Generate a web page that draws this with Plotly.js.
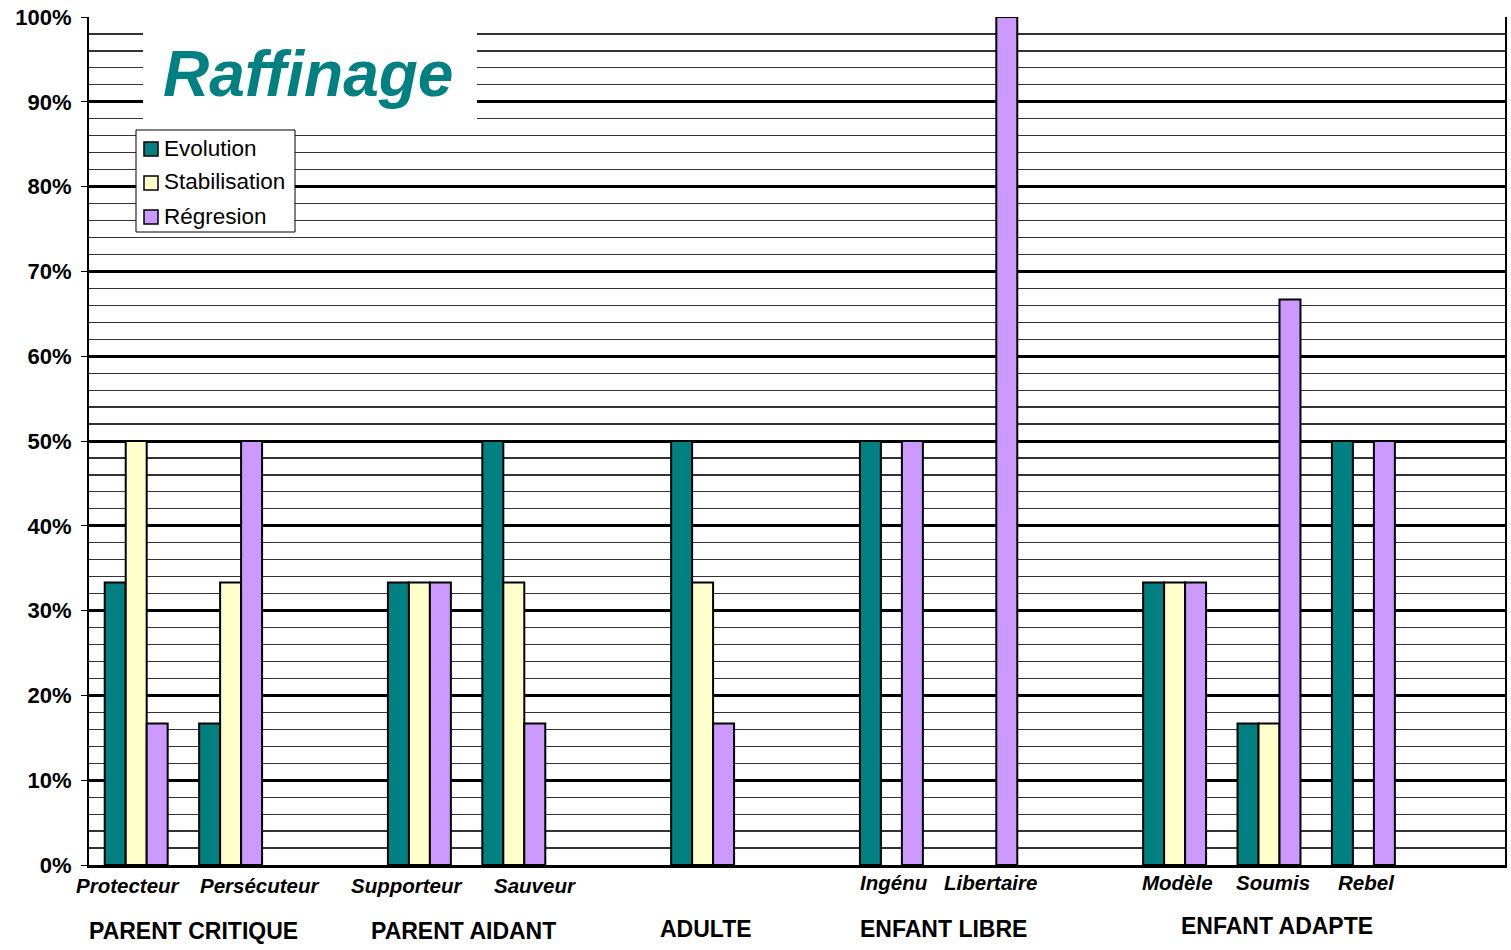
<!DOCTYPE html>
<html>
<head>
<meta charset="utf-8">
<script src="https://cdn.plot.ly/plotly-3.0.1.min.js"></script>
<style>html,body{margin:0;padding:0;background:#fff}#chart{width:1511px;height:950px}</style>
</head>
<body>
<div id="chart"></div>
<script>
// ---- data ----
var categories = ["Protecteur", "Persécuteur", "", "Supporteur", "Sauveur", "", "Adulte", "",
                  "Ingénu", "Libertaire", "", "Modèle", "Soumis", "Rebel", ""];
var tickLabels = ["Protecteur", "Persécuteur", "", "Supporteur", "Sauveur", "", "", "",
                  "Ingénu", "Libertaire", "", "Modèle", "Soumis", "Rebel", ""];
var evolution     = [33.3, 16.7, null, 33.3, 50, null, 50, null, 50, null, null, 33.3, 16.7, 50, null];
var stabilisation = [50, 33.3, null, 33.3, 33.3, null, 33.3, null, null, null, null, 33.3, 16.7, null, null];
var regresion     = [16.7, 50, null, 33.3, 16.7, null, 16.7, null, 50, 100, null, 33.3, 66.7, 50, null];
var seriesNames = ["Evolution", "Stabilisation", "Régresion"];
var groupLabels = ["PARENT CRITIQUE", "PARENT AIDANT", "ADULTE", "ENFANT LIBRE", "ENFANT ADAPTE"];
var chartTitle = "Raffinage";

// ---- styles / positions ----
var FONT = "Arial, 'Liberation Sans', sans-serif";
var colors = ["#008080", "#FFFFCC", "#CC99FF"];
var tickShift = [-8, 29, 0, -13, 21, 0, 0, 0, 3, 5, 0, 3, 4, 3, 0];
var tickYShift = [-20, -20, 0, -20, -20, 0, 0, 0, -17, -17, 0, -17, -17, -17, 0];
var groupPx = [193, 463, 706, 944, 1277];
var groupY = [-66, -66, -64, -64, -61];
var L = 89, R = 1505, T = 17, B = 865;
function px2x(p){ return (p - L) / (R - L); }
function py2y(p){ return 1 - (p - T) / (B - T); }

var xIdx = categories.map(function(c, i){ return i; });
var series = [evolution, stabilisation, regresion];
var traces = series.map(function(vals, i){
  return {
    type: "bar", x: xIdx, y: vals, name: seriesNames[i],
    marker: {color: colors[i], line: {color: "#000", width: 2}},
    hoverinfo: "skip", showlegend: false
  };
});

var annotations = [];
xIdx.forEach(function(xi, i){
  if (!tickLabels[i]) return;
  annotations.push({
    x: xi, xref: "x", y: 0, yref: "paper", yanchor: "middle", xanchor: "center",
    xshift: tickShift[i], yshift: tickYShift[i], showarrow: false,
    text: "<b><i>" + tickLabels[i] + "</i></b>",
    font: {family: FONT, size: 20.5, color: "#000"}
  });
});
groupLabels.forEach(function(g, i){
  annotations.push({
    x: px2x(groupPx[i]), xref: "paper", y: 0, yref: "paper", yanchor: "middle", xanchor: "center",
    yshift: groupY[i], showarrow: false, text: "<b>" + g + "</b>",
    font: {family: FONT, size: 23, color: "#000"}
  });
});
annotations.push({
  x: px2x(308), xref: "paper", y: py2y(74), yref: "paper", xanchor: "center", yanchor: "middle",
  showarrow: false, text: "<b><i>" + chartTitle + "</i></b>",
  font: {family: FONT, size: 64, color: "#008080"}
});

// legend drawn as a box with swatches
var shapes = [{
  type: "rect", xref: "paper", yref: "paper", layer: "above",
  x0: px2x(143), x1: px2x(477), y0: py2y(128), y1: py2y(20),
  fillcolor: "#fff", line: {width: 0}
}, {
  type: "rect", xref: "paper", yref: "paper", layer: "above",
  x0: px2x(136), x1: px2x(295), y0: py2y(232), y1: py2y(130),
  fillcolor: "#fff", line: {color: "#000", width: 1}
}];
var legRows = [149, 183, 217];
seriesNames.forEach(function(n, i){
  shapes.push({
    type: "rect", xref: "paper", yref: "paper", layer: "above",
    x0: px2x(144), x1: px2x(158), y0: py2y(legRows[i] + 7), y1: py2y(legRows[i] - 7),
    fillcolor: colors[i], line: {color: "#000", width: 1.5}
  });
  annotations.push({
    x: px2x(162), xref: "paper", y: py2y(legRows[i] - 1), yref: "paper",
    xanchor: "left", yanchor: "middle", showarrow: false, text: n,
    font: {family: FONT, size: 22.5, color: "#000"}
  });
});

var layout = {
  width: 1511, height: 950,
  margin: {l: L, r: 1511 - R, t: T, b: 950 - B, pad: 0},
  paper_bgcolor: "#fff", plot_bgcolor: "#fff",
  font: {family: FONT, color: "#000"},
  barmode: "group", bargap: 0.333, bargroupgap: 0,
  showlegend: false,
  xaxis: {
    type: "linear", range: [-0.5, categories.length - 0.5],
    showticklabels: false, ticks: "", showgrid: false,
    showline: true, linecolor: "#000", linewidth: 3, mirror: false,
    zeroline: false, fixedrange: true
  },
  yaxis: {
    range: [0, 100], dtick: 10, ticksuffix: "%",
    showgrid: true, gridcolor: "#000", gridwidth: 3,
    minor: {dtick: 2, showgrid: true, gridcolor: "#333", gridwidth: 1.2},
    showline: true, linecolor: "#000", linewidth: 2, mirror: true,
    ticks: "outside", ticklen: 6, tickcolor: "#000", tickwidth: 1,
    ticklabelstandoff: 5,
    tickfont: {family: FONT, size: 22, color: "#000", weight: "bold"},
    zeroline: false, fixedrange: true
  },
  shapes: shapes,
  annotations: annotations
};

Plotly.newPlot("chart", traces, layout, {displayModeBar: false, staticPlot: true});
</script>
</body>
</html>
